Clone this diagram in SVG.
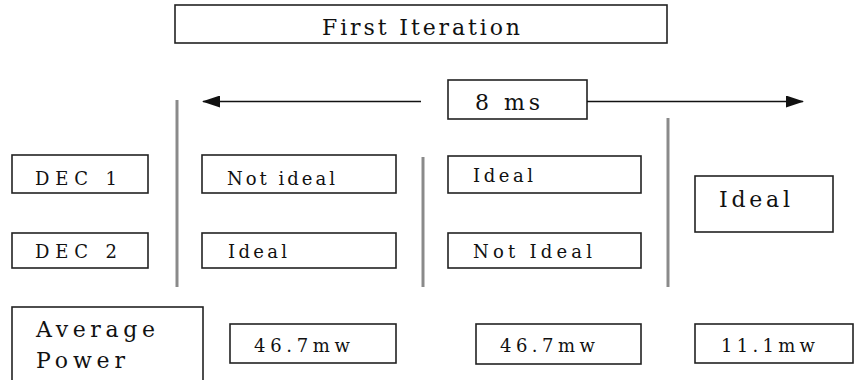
<svg xmlns="http://www.w3.org/2000/svg" width="855" height="380" viewBox="0 0 855 380">
  <style>
    .box { fill: #ffffff; stroke: #222222; stroke-width: 1.6; }
    .lbl { fill: #111111; }
    .s18 { font-size: 18px; }
    .s22 { font-size: 22px; }
    .sep { stroke: #8a8a8a; stroke-width: 3; }
    .arrow { stroke: #111111; stroke-width: 1.6; fill: none; }
  </style>
  <defs>
    <marker id="head" viewBox="0 0 18 12" refX="17" refY="6" markerWidth="18" markerHeight="12" markerUnits="userSpaceOnUse" orient="auto-start-reverse">
      <path d="M0,0 L18,6 L0,12 Z" fill="#111111"/>
    </marker>
  </defs>
  <rect width="855" height="380" fill="#ffffff"/>

  <g font-family="'DejaVu Serif', 'Liberation Serif', serif">
  <g id="title">
    <rect class="box" x="175" y="5" width="492" height="38"/>
    <text class="lbl s22" x="322" y="35" textLength="198" lengthAdjust="spacing">First Iteration</text>
  </g>

  <g id="period">
    <rect class="box" x="448" y="80" width="139" height="39"/>
    <text class="lbl s22" x="475" y="110" textLength="65" lengthAdjust="spacing">8 ms</text>
  </g>

  <g id="connectors">
    <line class="arrow" x1="421" y1="101.5" x2="203" y2="101.5" marker-end="url(#head)"/>
    <line class="arrow" x1="587" y1="101.5" x2="803" y2="101.5" marker-end="url(#head)"/>
    <line class="sep" x1="177" y1="100" x2="177" y2="287"/>
    <line class="sep" x1="423" y1="157" x2="423" y2="287"/>
    <line class="sep" x1="668" y1="118" x2="668" y2="287"/>
  </g>

  <g id="dec1">
    <rect class="box" x="12" y="155" width="136" height="38"/>
    <text class="lbl s18" x="35" y="185" textLength="82" lengthAdjust="spacing">DEC 1</text>
  </g>
  <g id="dec2">
    <rect class="box" x="12" y="233" width="136" height="35"/>
    <text class="lbl s18" x="35" y="258" textLength="82" lengthAdjust="spacing">DEC 2</text>
  </g>

  <g id="slot1-dec1">
    <rect class="box" x="202" y="155" width="194" height="38"/>
    <text class="lbl s18" x="227" y="185" textLength="108" lengthAdjust="spacing">Not ideal</text>
  </g>
  <g id="slot1-dec2">
    <rect class="box" x="202" y="233" width="194" height="35"/>
    <text class="lbl s18" x="228" y="258" textLength="59" lengthAdjust="spacing">Ideal</text>
  </g>

  <g id="slot2-dec1">
    <rect class="box" x="448" y="156" width="193" height="37"/>
    <text class="lbl s18" x="473" y="182" textLength="60" lengthAdjust="spacing">Ideal</text>
  </g>
  <g id="slot2-dec2">
    <rect class="box" x="448" y="233" width="193" height="35"/>
    <text class="lbl s18" x="473" y="258" textLength="119" lengthAdjust="spacing">Not Ideal</text>
  </g>

  <g id="slot3">
    <rect class="box" x="695" y="176" width="138" height="56"/>
    <text class="lbl s22" x="719" y="207" textLength="71" lengthAdjust="spacing">Ideal</text>
  </g>

  <g id="avg-power">
    <rect class="box" x="12" y="307" width="191" height="76"/>
    <text class="lbl s22" x="36" y="337" textLength="119" lengthAdjust="spacing">Average</text>
    <text class="lbl s22" x="36" y="368" textLength="89" lengthAdjust="spacing">Power</text>
  </g>

  <g id="power1">
    <rect class="box" x="230" y="324" width="166" height="39"/>
    <text class="lbl s18" x="254" y="352" textLength="96" lengthAdjust="spacing">46.7mw</text>
  </g>
  <g id="power2">
    <rect class="box" x="476" y="324" width="165" height="40"/>
    <text class="lbl s18" x="500" y="352" textLength="95" lengthAdjust="spacing">46.7mw</text>
  </g>
  <g id="power3">
    <rect class="box" x="695" y="324" width="158" height="39"/>
    <text class="lbl s18" x="721" y="352" textLength="94" lengthAdjust="spacing">11.1mw</text>
  </g>
  </g>
</svg>
